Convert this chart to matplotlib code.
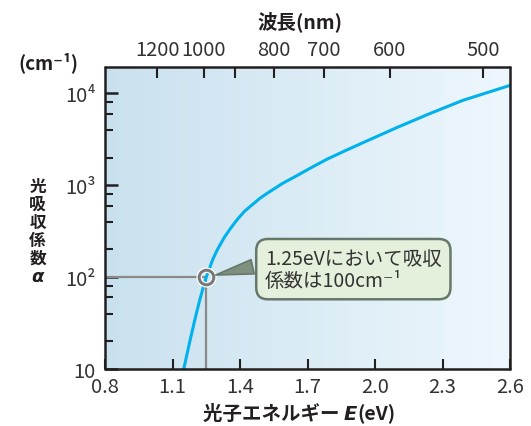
import numpy as np
import matplotlib
matplotlib.use("Agg")
import matplotlib.pyplot as plt
from matplotlib.colors import LinearSegmentedColormap

plt.rcParams['font.family'] = ['Noto Sans CJK JP', 'DejaVu Sans']

# 光子エネルギー (eV) と 吸収係数 (cm^-1) : 図から読み取り
energy = [1.15, 1.175, 1.20, 1.22, 1.237, 1.25, 1.28, 1.30, 1.33, 1.36, 1.39, 1.42, 1.46,
          1.49, 1.53, 1.59, 1.65, 1.72, 1.785, 1.87, 1.95, 2.10, 2.24, 2.39, 2.50, 2.60]
alpha = [10, 19, 35, 55, 78, 100, 158, 200, 270, 345, 430, 520, 630,
         725, 845, 1050, 1260, 1570, 1910, 2390, 2930, 4270, 5970, 8380, 10200, 12200]

# 注目点
mark_e = 1.25
mark_a = 100

x_ticks = [0.8, 1.1, 1.4, 1.7, 2.0, 2.3, 2.6]
x_labels = ['0.8', '1.1', '1.4', '1.7', '2.0', '2.3', '2.6']
y_ticks = [10, 100, 1000, 10000]
y_labels = ['10', '10²', '10³', '10⁴']
wl_ticks = [1200, 1000, 900, 800, 700, 600, 500]
wl_labels = ['1200', '1000', '', '800', '700', '600', '500']

ink = '#231f20'
txt = '#333333'

fig = plt.figure(figsize=(5.31, 4.27), dpi=100)
ax = fig.add_axes([105 / 531, 1 - 370 / 427, 405 / 531, 301.7 / 427])

# 背景グラデーション
cmap = LinearSegmentedColormap.from_list('bg', ['#c9e1ee', '#eef7fd'])
ax.imshow(np.linspace(0, 1, 256).reshape(1, -1), cmap=cmap, aspect='auto',
          extent=[0, 1, 0, 1], transform=ax.transAxes, zorder=0)

ax.set_yscale('log')
ax.set_xlim(0.8, 2.6)
ax.set_ylim(10, 1.92e4)

# 補助線
ax.plot([0.8, mark_e], [mark_a, mark_a], color='#8a8a8a', lw=1.6, zorder=2, solid_capstyle='butt')
ax.plot([mark_e, mark_e], [10, mark_a], color='#8a8a8a', lw=1.6, zorder=2, solid_capstyle='butt')

ax.plot(energy, alpha, color='#00b2ec', lw=2.2, zorder=3, solid_joinstyle='round')

# 丸印
ax.plot([mark_e], [mark_a], 'o', ms=10.5, mfc='none', mec='white', mew=4, zorder=4)
ax.plot([mark_e], [mark_a], 'o', ms=10.5, mfc='none', mec='#7a7a7a', mew=2.2, zorder=5)

ax.annotate('1.25eVにおいて吸収\n係数は100cm⁻¹', xy=(mark_e, mark_a), xycoords='data',
            xytext=(0.395, 0.331), textcoords='axes fraction', ha='left', va='center',
            fontsize=14, color=txt, linespacing=1.05, zorder=6,
            bbox=dict(boxstyle='round,pad=0.45,rounding_size=0.6', fc='#e4f0dc', ec='#66786a', lw=1.8),
            arrowprops=dict(arrowstyle='wedge,tail_width=0.75,shrink_factor=0.5', fc='#7f907f',
                            ec='#66786a', lw=1.2, relpos=(0, 0.62), shrinkB=7))

# 軸
for s in ax.spines.values():
    s.set_color(ink)
    s.set_linewidth(1.8)
    s.set_capstyle('round')
    s.set_zorder(7)

ax.set_xticks(x_ticks)
ax.set_xticklabels(x_labels)
ax.set_yticks(y_ticks)
ax.set_yticklabels(y_labels)
ax.yaxis.set_minor_locator(matplotlib.ticker.LogLocator(base=10, subs=[2, 4, 6, 8]))
ax.yaxis.set_minor_formatter(matplotlib.ticker.NullFormatter())
ax.tick_params(axis='x', direction='in', length=7, width=1.5, color=ink, labelsize=14.5,
               labelcolor=txt, pad=5, top=False)
ax.tick_params(axis='y', which='major', direction='in', length=9, width=1.8, color=ink,
               labelsize=14.5, labelcolor=txt, pad=7, right=False)
ax.tick_params(axis='y', which='minor', direction='in', length=5.5, width=1.5, color=ink, right=False)


def e2wl(e):
    e = np.asarray(e, dtype=float)
    return 1239.84 / np.where(e == 0, 1e-9, e)


top = ax.secondary_xaxis('top', functions=(e2wl, e2wl))
top.set_xticks(wl_ticks)
top.set_xticklabels(wl_labels)
top.tick_params(axis='x', direction='in', length=8, width=1.5, color=ink, labelsize=14.5,
                labelcolor=txt, pad=5)
top.spines['top'].set_visible(False)

# ラベル類
fig.text(300 / 531, 1 - 22 / 427, '波長(nm)', ha='center', va='center', fontsize=14,
         weight='bold', color=ink)
fig.text(48 / 531, 1 - 63 / 427, '(cm⁻¹)', ha='center', va='center', fontsize=13.5,
         weight='bold', color=ink)

for i, ch in enumerate('光吸収係数'):
    fig.text(37.5 / 531, 1 - (187 + 18 * i) / 427, ch, ha='center', va='center',
             fontsize=12, weight='bold', color=ink)
fig.text(37.5 / 531, 1 - 277 / 427, 'α', ha='center', va='center', fontsize=13,
         weight='bold', style='italic', family='DejaVu Sans', color=ink)

t1 = fig.text(203 / 531, 1 - 420 / 427, '光子エネルギー ', ha='left', va='baseline',
              fontsize=14, weight='bold', color=ink)
t2 = ax.annotate('E', xy=(1, 0), xycoords=t1, ha='left', va='bottom', fontsize=14,
                 weight='bold', style='italic', family='DejaVu Sans', color=ink)
ax.annotate('(eV)', xy=(1, 0), xycoords=t2, ha='left', va='bottom', fontsize=14,
            weight='bold', color=ink)

fig.savefig('out.png', dpi=100)
